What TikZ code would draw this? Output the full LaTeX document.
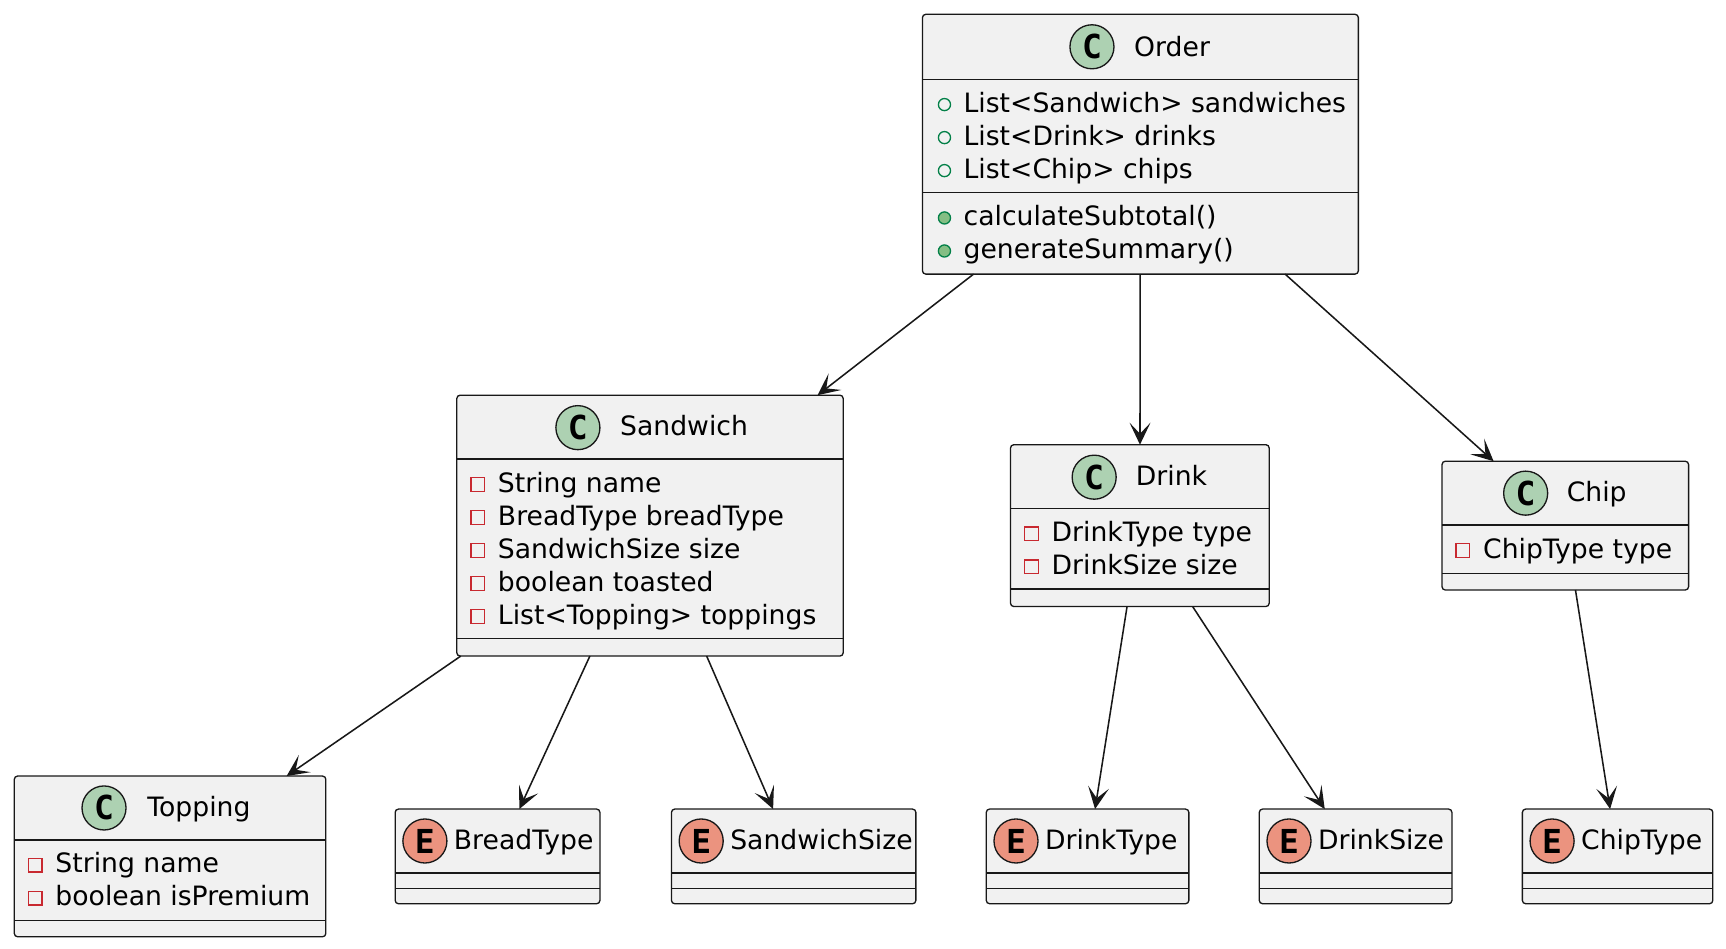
\documentclass[tikz,border=0pt]{standalone}
\usepackage{fontspec}
\setmainfont{DejaVu Sans}
\newfontfamily\spotfont{DejaVu Sans Mono}
\usetikzlibrary{arrows.meta}

\definecolor{boxfill}{HTML}{F1F1F1}
\definecolor{boxline}{HTML}{181818}
\definecolor{spotclass}{HTML}{ADD1B2}
\definecolor{spotenum}{HTML}{EB937F}
\definecolor{publine}{HTML}{038048}
\definecolor{pubfill}{HTML}{84BE84}
\definecolor{privline}{HTML}{C82930}

\tikzset{
  umlbox/.style={draw=boxline, fill=boxfill, line width=0.6pt, rounded corners=1.5pt, inner sep=0pt, outer sep=0pt},
  spot/.style={circle, draw=boxline, line width=0.6pt, minimum size=20pt, inner sep=0pt, font=\spotfont\bfseries\fontsize{15}{15}\selectfont},
  classspot/.style={spot, fill=spotclass},
  enumspot/.style={spot, fill=spotenum},
  member/.style={anchor=base west, inner sep=0pt, font=\fontsize{12.1}{15}\selectfont},
  pubfield/.style={circle, draw=publine, line width=0.6pt, minimum size=5.5pt, inner sep=0pt},
  pubmethod/.style={pubfield, fill=pubfill},
  privfield/.style={rectangle, draw=privline, line width=0.6pt, minimum size=6.2pt, inner sep=0pt},
  sepline/.style={draw=boxline, line width=0.6pt},
  assoc/.style={draw=boxline, line width=0.7pt, -{Stealth[length=10pt, width=9.5pt, inset=5pt]}}
}

\begin{document}
\begin{tikzpicture}[x=0.5pt, y=-0.5pt]
\useasboundingbox (0,0) rectangle (1568,862);

% Order
\node[umlbox, minimum width=198pt, minimum height=118pt] (order) at (1036,131) {};
\node[classspot] (order-spot) at (992,42.5) {C};
\node[member] (order-title) at (1030,51) {Order};
\foreach \txt [count=\i] in {List<Sandwich> sandwiches, List<Drink> drinks, List<Chip> chips}{
  \node[pubfield] (order-v\i) at (858,{65+30*\i}) {};
  \node[member] (order-a\i) at (875,{72+30*\i}) {\txt};
}
\foreach \txt [count=\i] in {calculateSubtotal(), generateSummary()}{
  \node[pubmethod] (order-w\i) at (858,{168+30*\i}) {};
  \node[member] (order-m\i) at (875,{175+30*\i}) {\txt};
}

% Sandwich
\node[umlbox, minimum width=175.5pt, minimum height=118.5pt] (sandwich) at (590.5,477.5) {};
\node[classspot] (sandwich-spot) at (525,388.5) {C};
\node[member] (sandwich-title) at (563,396) {Sandwich};
\foreach \txt [count=\i] in {String name, BreadType breadType, SandwichSize size, boolean toasted, List<Topping> toppings}{
  \node[privfield] (sandwich-v\i) at (434,{410+30*\i}) {};
  \node[member] (sandwich-a\i) at (452,{417+30*\i}) {\txt};
}

% Drink
\node[umlbox, minimum width=117.5pt, minimum height=73.5pt] (drink) at (1035.5,477.5) {};
\node[classspot] (drink-spot) at (994,433.5) {C};
\node[member] (drink-title) at (1031.5,441) {Drink};
\foreach \txt [count=\i] in {DrinkType type, DrinkSize size}{
  \node[privfield] (drink-v\i) at (937,{455+30*\i}) {};
  \node[member] (drink-a\i) at (955,{462+30*\i}) {\txt};
}

% Chip
\node[umlbox, minimum width=112pt, minimum height=58.5pt] (chip) at (1422,477.5) {};
\node[classspot] (chip-spot) at (1386,448) {C};
\node[member] (chip-title) at (1423,456) {Chip};
\node[privfield] (chip-v1) at (1329,500) {};
\node[member] (chip-a1) at (1347,507) {ChipType type};

% Topping
\node[umlbox, minimum width=141.5pt, minimum height=73pt] (topping) at (154.5,778) {};
\node[classspot] (topping-spot) at (94.5,734) {C};
\node[member] (topping-title) at (133.5,742) {Topping};
\foreach \txt [count=\i] in {String name, boolean isPremium}{
  \node[privfield] (topping-v\i) at (32,{756+30*\i}) {};
  \node[member] (topping-a\i) at (50,{763+30*\i}) {\txt};
}

\foreach \l/\r/\y in {838/1234/72, 838/1234/175, 415/766/417, 415/766/580, 918/1153/462, 918/1153/535,
                      1310/1534/477, 1310/1534/521, 13/296/763, 13/296/836}
  \draw[sepline] (\l,\y) -- (\r,\y);

% enums
\foreach \name/\cx/\w/\txt in {breadtype/452/93/BreadType, sandwichsize/721/111/SandwichSize,
                               drinktype/988/92/DrinkType, drinksize/1231.5/87.5/DrinkSize, chiptype/1469.5/86.5/ChipType}{
  \node[umlbox, minimum width=\w pt, minimum height=43pt] (\name) at (\cx,778) {};
  \node[enumspot] (\name-spot) at ({\cx-\w+27},764) {E};
  \node[member] (\name-title) at ({\cx-\w+53},772) {\txt};
  \draw[sepline] ({\cx-\w},793) -- ({\cx+\w},793);
  \draw[sepline] ({\cx-\w},807) -- ({\cx+\w},807);
}

\draw[assoc] (order) -- (sandwich);
\draw[assoc] (order) -- (drink);
\draw[assoc] (order) -- (chip);
\draw[assoc] (sandwich) -- (topping);
\draw[assoc] (sandwich) -- (breadtype);
\draw[assoc] (sandwich) -- (sandwichsize);
\draw[assoc] (drink) -- (drinktype);
\draw[assoc] (drink) -- (drinksize);
\draw[assoc] (chip) -- (chiptype);
\end{tikzpicture}
\end{document}
